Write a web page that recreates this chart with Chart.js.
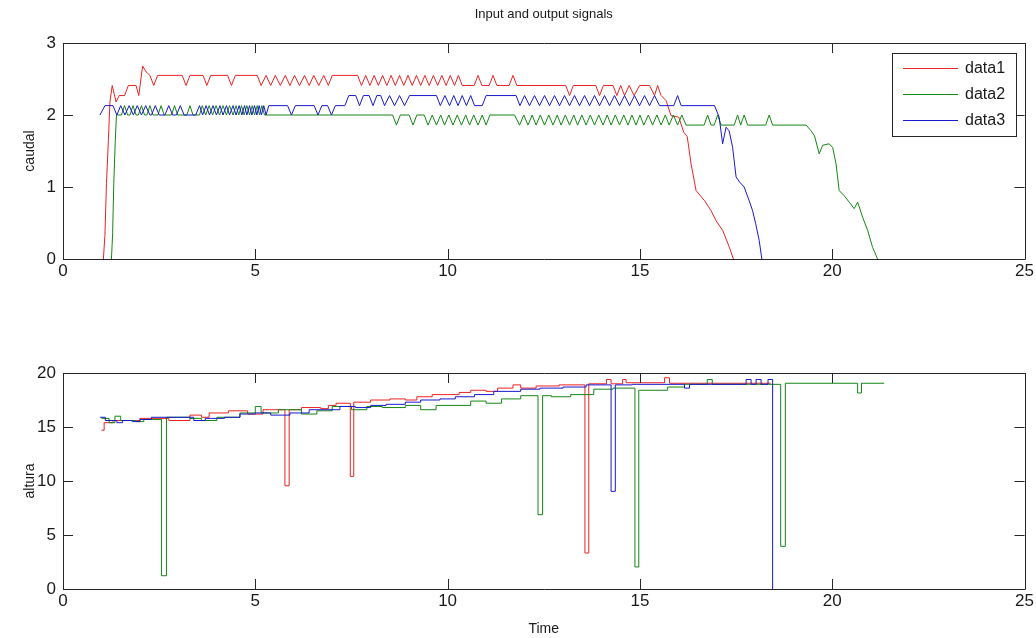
<!DOCTYPE html>
<html>
<head>
<meta charset="utf-8">
<script src="https://cdn.jsdelivr.net/npm/chart.js@4.4.1/dist/chart.umd.min.js"></script>
<style>
  body { margin: 0; background: #fff; }
  #wrap { position: relative; width: 1036px; height: 638px; }
  canvas { position: absolute; left: 0; }
</style>
</head>
<body>
<div id="wrap">
  <canvas id="topChart" width="1036" height="300" style="top:0"></canvas>
  <canvas id="bottomChart" width="1036" height="338" style="top:300px"></canvas>
</div>
<script>
// series labels
var seriesNames = ['data1', 'data2', 'data3'];
var xTicks = [0, 5, 10, 15, 20, 25];
var caudalTicks = [0, 1, 2, 3];
var alturaTicks = [0, 5, 10, 15, 20];

// caudal (top), [time, value]
var caudal1 = [[1.05,0],[1.09,0.33],[1.13,1.05],[1.18,1.65],[1.22,2.18],[1.28,2.41],[1.38,2.18],[1.46,2.27],[1.60,2.27],[1.70,2.41],[1.90,2.41],[1.97,2.27],[2.07,2.68],[2.16,2.6],[2.26,2.55],[2.36,2.41],[2.46,2.55],
  [3.10,2.55],[3.20,2.41],[3.30,2.55],[3.64,2.55],[3.74,2.41],[3.84,2.55],[4.28,2.55],[4.38,2.41],[4.48,2.55],
  [5.05,2.55],[5.15,2.41],[5.28,2.55],[5.40,2.41],[5.52,2.55],[5.65,2.41],[5.78,2.55],[5.90,2.41],[6.02,2.55],[6.15,2.41],[6.28,2.55],[6.40,2.41],[6.52,2.55],[6.65,2.41],[6.78,2.55],[6.90,2.41],[7.00,2.55],
  [7.66,2.55],[7.76,2.41],[7.87,2.55],[7.98,2.41],[8.09,2.55],[8.20,2.41],[8.31,2.55],[8.42,2.41],[8.53,2.55],[8.64,2.41],[8.75,2.55],[8.86,2.41],[8.97,2.55],[9.08,2.41],[9.19,2.55],[9.30,2.41],[9.41,2.55],[9.52,2.41],[9.63,2.55],[9.74,2.41],[9.85,2.55],[9.96,2.41],[10.07,2.55],[10.18,2.41],[10.28,2.55],[10.38,2.41],[10.48,2.41],
  [10.69,2.41],[10.79,2.55],[10.89,2.41],[11.08,2.41],[11.18,2.55],[11.28,2.41],[11.60,2.41],[11.70,2.55],[11.80,2.41],
  [13.07,2.41],[13.17,2.27],[13.27,2.41],[13.85,2.41],[13.95,2.27],[14.05,2.41],
  [14.30,2.41],[14.40,2.27],[14.50,2.41],[14.60,2.27],[14.72,2.41],[14.85,2.27],[14.99,2.41],[15.25,2.41],[15.38,2.27],[15.46,2.41],[15.55,2.27],[15.68,2.2],[15.81,1.99],[16.01,1.97],[16.14,1.76],[16.23,1.7],[16.33,1.32],[16.46,0.95],[16.68,0.81],[16.85,0.67],[16.98,0.53],[17.15,0.4],[17.32,0.17],[17.43,0]];

var caudal2 = [[1.26,0],[1.29,0.35],[1.32,1.05],[1.36,1.65],[1.39,2.0],
  [1.52,2.0],[1.60,2.13],[1.68,2.0],[1.74,2.0],[1.82,2.13],[1.90,2.0],[1.96,2.0],[2.04,2.13],[2.12,2.0],[2.18,2.0],[2.26,2.13],[2.34,2.0],
  [2.47,2.0],[2.55,2.13],[2.63,2.0],[2.82,2.0],[2.90,2.13],[2.98,2.0],[3.22,2.0],[3.30,2.13],[3.38,2.0],
  [3.55,2.0],[3.62,2.13],[3.71,2.0],[3.80,2.13],[3.89,2.0],[3.98,2.13],[4.07,2.0],[4.16,2.13],[4.25,2.0],[4.33,2.13],[4.42,2.0],[4.50,2.13],[4.57,2.0],[4.64,2.13],[4.71,2.0],[4.78,2.13],[4.85,2.0],[4.92,2.13],[4.98,2.0],[5.05,2.13],[5.11,2.0],[5.17,2.13],[5.24,2.0],
  [8.57,2.0],[8.67,1.86],[8.77,2.0],[9.00,2.0],[9.10,1.86],[9.20,2.0],
  [9.39,2.0],[9.49,1.86],[9.60,2.0],[9.71,1.86],[9.82,2.0],[9.92,1.86],[10.03,2.0],[10.14,1.86],[10.25,2.0],[10.36,1.86],[10.47,2.0],[10.57,1.86],[10.68,2.0],[10.79,1.86],[10.90,2.0],[11.00,1.86],[11.10,2.0],
  [11.74,2.0],[11.87,1.86],[11.98,2.0],[12.09,1.86],[12.20,2.0],[12.30,1.86],[12.41,2.0],[12.52,1.86],[12.63,2.0],[12.74,1.86],[12.85,2.0],[12.95,1.86],[13.06,2.0],[13.17,1.86],[13.28,2.0],[13.38,1.86],[13.49,2.0],[13.60,1.86],[13.71,2.0],[13.82,1.86],[13.93,2.0],[14.04,1.86],[14.15,2.0],[14.25,1.86],[14.36,2.0],[14.47,1.86],[14.58,2.0],[14.69,1.86],[14.79,2.0],[14.90,1.86],[15.00,2.0],[15.10,1.86],[15.22,2.0],[15.33,1.86],[15.44,2.0],[15.55,1.86],[15.66,2.0],[15.76,1.86],[15.87,2.0],[15.98,1.86],[16.09,2.0],[16.20,1.86],
  [16.67,1.86],[16.76,2.0],[16.85,1.86],[16.93,1.86],[17.02,2.0],[17.11,1.86],[17.45,1.86],[17.54,2.0],[17.62,1.86],[17.71,2.0],[17.80,1.86],[18.27,1.86],[18.36,2.0],[18.45,1.86],
  [19.32,1.86],[19.45,1.78],[19.54,1.71],[19.66,1.46],[19.75,1.58],[19.92,1.6],[20.01,1.55],[20.10,1.32],[20.18,0.95],[20.31,0.88],[20.44,0.79],[20.57,0.7],[20.66,0.79],[20.79,0.58],[20.92,0.4],[21.05,0.16],[21.18,0]];

var caudal3 = [[0.96,2.0],[1.09,2.13],[1.30,2.13],[1.40,2.0],[1.50,2.13],[1.61,2.0],[1.72,2.13],[1.83,2.0],[1.93,2.13],[2.04,2.0],[2.15,2.13],[2.26,2.0],
  [2.30,2.0],[2.40,2.13],[2.50,2.0],[2.65,2.0],[2.75,2.13],[2.85,2.0],[2.95,2.0],[3.05,2.13],[3.15,2.0],
  [3.45,2.0],[3.55,2.13],[3.63,2.0],[3.72,2.13],[3.81,2.0],[3.90,2.13],[3.99,2.0],[4.08,2.13],[4.16,2.0],[4.25,2.13],[4.33,2.0],[4.42,2.13],[4.50,2.0],[4.58,2.13],[4.65,2.0],[4.72,2.13],[4.78,2.0],[4.85,2.13],[4.91,2.0],[4.98,2.13],[5.04,2.0],[5.10,2.13],[5.16,2.0],[5.22,2.13],[5.28,2.0],[5.35,2.13],
  [5.84,2.13],[5.94,2.0],[6.04,2.13],[6.53,2.13],[6.63,2.0],[6.73,2.13],[6.88,2.13],[6.98,2.0],[7.08,2.13],[7.33,2.13],[7.43,2.27],
  [7.61,2.27],[7.71,2.13],[7.81,2.27],[7.96,2.27],[8.06,2.13],[8.16,2.27],[8.26,2.27],[8.36,2.13],[8.49,2.27],[8.62,2.13],[8.75,2.27],[8.88,2.13],[9.01,2.27],
  [9.71,2.27],[9.81,2.13],[9.93,2.27],[10.05,2.13],[10.16,2.27],[10.27,2.13],[10.38,2.27],[10.49,2.13],[10.60,2.27],[10.70,2.13],[10.90,2.13],[11.00,2.27],
  [11.78,2.27],[11.88,2.13],[12.00,2.27],[12.13,2.13],[12.26,2.27],[12.39,2.13],[12.52,2.27],[12.65,2.13],[12.78,2.27],[12.91,2.13],[13.04,2.27],[13.17,2.13],[13.30,2.27],[13.43,2.13],[13.56,2.27],[13.69,2.13],[13.82,2.27],[13.95,2.13],[14.08,2.27],[14.21,2.13],[14.34,2.27],[14.47,2.13],[14.60,2.27],[14.73,2.13],[14.86,2.27],[14.99,2.13],[15.12,2.27],[15.25,2.13],[15.38,2.27],[15.51,2.13],
  [15.88,2.13],[15.98,2.27],[16.07,2.13],[16.94,2.13],[17.06,1.97],[17.15,1.6],[17.24,1.83],[17.32,1.78],[17.41,1.55],[17.50,1.14],[17.59,1.07],[17.71,1.0],[17.84,0.81],[17.93,0.67],[18.01,0.49],[18.10,0.26],[18.17,0]];

// altura (bottom), stairs: value holds from that time to the next
var altura1 = [[1.0,14.7],[1.07,15.4],[1.3,15.6],[2.0,15.8],[2.75,15.6],[3.3,16.1],[3.6,15.9],[3.8,16.3],[4.3,16.5],[4.8,16.2],[5.2,16.6],
  [5.77,9.56],[5.88,16.6],[6.2,16.8],[6.7,16.7],[6.9,17.0],[7.1,17.2],[7.47,10.43],[7.56,17.3],[8.0,17.5],[8.5,17.6],[8.9,17.5],[9.2,17.8],[9.6,18.0],
  [10.3,18.2],[10.6,18.4],[11.0,18.3],[11.3,18.6],[11.7,18.9],[11.9,18.6],[12.3,18.8],[12.9,18.9],[13.57,3.33],[13.67,19.0],[14.13,19.4],[14.25,19.0],
  [14.55,19.4],[14.64,19.1],[15.64,19.56],[15.77,19.05],[18.4,19.05]];

var altura2 = [[1.0,15.8],[1.2,15.4],[1.35,16.0],[1.5,15.6],[1.9,15.5],[2.1,15.7],[2.56,1.23],[2.69,15.9],[3.3,15.8],[3.6,15.6],[4.0,15.9],[4.6,16.3],
  [5.0,16.9],[5.15,16.3],[5.6,16.6],[6.2,16.2],[6.6,16.5],[7.0,16.9],[7.5,16.6],[7.9,16.9],[8.3,16.8],[8.9,17.0],[9.3,16.6],[9.7,17.0],[10.6,17.4],
  [11.0,17.2],[11.4,17.6],[11.9,17.9],[12.35,6.88],[12.47,17.9],[12.7,17.8],[13.2,18.0],[13.8,18.5],[14.3,18.6],[14.87,2.04],[14.97,18.4],[15.72,18.7],
  [16.16,18.95],[16.75,19.4],[16.88,18.95],[18.66,3.95],[18.78,19.05],[20.66,18.15],[20.76,19.05],[21.35,19.05]];

var altura3 = [[0.96,15.9],[1.1,15.6],[1.4,15.4],[1.55,15.6],[1.8,15.5],[2.0,15.7],[2.3,15.9],[3.4,15.6],[3.7,15.8],[4.2,15.9],[4.6,16.2],[5.0,16.3],
  [5.4,16.1],[5.9,16.3],[6.4,16.6],[7.2,16.9],[7.6,16.8],[8.0,17.0],[8.4,17.1],[8.9,17.3],[9.3,17.5],[9.8,17.6],[10.2,17.8],[10.7,18.0],[11.2,18.3],
  [11.9,18.5],[12.4,18.6],[13.0,18.7],[13.6,18.9],[14.25,9.04],[14.36,18.9],[14.8,18.95],[16.16,18.6],[16.29,18.95],[17.76,19.4],[17.89,18.95],
  [18.02,19.4],[18.15,18.95],[18.33,19.4],[18.45,0]];

var colores = ['rgb(235,35,35)', 'rgb(20,135,20)', 'rgb(25,25,205)'];
var FONT = 'Liberation Sans, Arial, sans-serif';

function puntos(arr) {
  return arr.map(function(p) { return {x: p[0], y: p[1]}; });
}

// box + inward ticks on all four sides, like the original
var marco = {
  id: 'marco',
  afterDatasetsDraw: function(chart) {
    var a = chart.chartArea, c = chart.ctx;
    var sx = chart.scales.x, sy = chart.scales.y;
    c.save();
    c.strokeStyle = '#262626';
    c.lineWidth = 1;
    c.beginPath();
    c.rect(Math.round(a.left) + 0.5, Math.round(a.top) + 0.5, Math.round(a.right - a.left), Math.round(a.bottom - a.top));
    sx.ticks.forEach(function(t) {
      var px = Math.round(sx.getPixelForValue(t.value)) + 0.5;
      c.moveTo(px, a.bottom); c.lineTo(px, a.bottom - 10);
      c.moveTo(px, a.top); c.lineTo(px, a.top + 10);
    });
    sy.ticks.forEach(function(t) {
      var py = Math.round(sy.getPixelForValue(t.value)) + 0.5;
      c.moveTo(a.left, py); c.lineTo(a.left + 10, py);
      c.moveTo(a.right, py); c.lineTo(a.right - 10, py);
    });
    c.stroke();
    c.restore();
  }
};

var titulo = {
  id: 'titulo',
  afterDraw: function(chart) {
    var c = chart.ctx, a = chart.chartArea;
    c.save();
    c.fillStyle = '#1a1a1a';
    c.font = '13px ' + FONT;
    c.textAlign = 'center';
    c.textBaseline = 'middle';
    c.fillText('Input and output signals', (a.left + a.right) / 2, 14);
    c.restore();
  }
};

var leyenda = {
  id: 'leyenda',
  afterDraw: function(chart) {
    var c = chart.ctx;
    var x0 = 892, y0 = 53, w = 124, h = 83;
    c.save();
    c.fillStyle = '#fff';
    c.fillRect(x0, y0, w, h);
    c.strokeStyle = '#262626';
    c.lineWidth = 1;
    c.strokeRect(x0 + 0.5, y0 + 0.5, w, h);
    c.font = '16px ' + FONT;
    c.textBaseline = 'middle';
    seriesNames.forEach(function(n, i) {
      var y = Math.round(y0 + 15 + i * 26);
      c.fillStyle = colores[i];
      c.fillRect(903, y, 55, 1);
      c.fillStyle = '#1a1a1a';
      c.fillText(n, 965, y + 1);
    });
    c.restore();
  }
};

function opciones(yMax, yStep, yTitle, padTop, xHeight, xTitle) {
  var tickFont = {family: FONT, size: 17};
  return {
    responsive: false,
    animation: false,
    layout: {padding: {top: padTop, right: 11, left: 0, bottom: 0}},
    plugins: {legend: {display: false}, tooltip: {enabled: false}},
    elements: {point: {radius: 0}, line: {borderWidth: 1, tension: 0}},
    scales: {
      x: {
        type: 'linear', min: 0, max: 25,
        afterBuildTicks: function(s) { s.ticks = xTicks.map(function(v) { return {value: v}; }); },
        ticks: {font: tickFont, color: '#1a1a1a', padding: 2, maxRotation: 0},
        grid: {display: false, drawTicks: false}, border: {display: false},
        title: {display: !!xTitle, text: xTitle || '', font: {family: FONT, size: 14}, color: '#1a1a1a', padding: {top: 4, bottom: 0}},
        afterFit: function(s) { s.height = xHeight; }
      },
      y: {
        min: 0, max: yMax,
        ticks: {stepSize: yStep, font: tickFont, color: '#1a1a1a', padding: 7},
        grid: {display: false, drawTicks: false}, border: {display: false},
        title: {display: true, text: yTitle, font: {family: FONT, size: 14}, color: '#1a1a1a', padding: {top: 22, bottom: 0}},
        afterFit: function(s) { s.width = 63; }
      }
    }
  };
}

function series(lista, stepped) {
  return lista.map(function(d, i) {
    return {
      label: seriesNames[i],
      data: puntos(d),
      borderColor: colores[i],
      backgroundColor: colores[i],
      fill: false,
      stepped: stepped,
      order: 2 - i
    };
  });
}

new Chart(document.getElementById('topChart'), {
  type: 'line',
  data: {datasets: series([caudal1, caudal2, caudal3], false)},
  options: opciones(3, 1, 'caudal', 43, 41, ''),
  plugins: [marco, titulo, leyenda]
});

new Chart(document.getElementById('bottomChart'), {
  type: 'line',
  data: {datasets: series([altura1, altura2, altura3], 'before')},
  options: opciones(20, 5, 'altura', 73, 49, 'Time'),
  plugins: [marco]
});
</script>
</body>
</html>
